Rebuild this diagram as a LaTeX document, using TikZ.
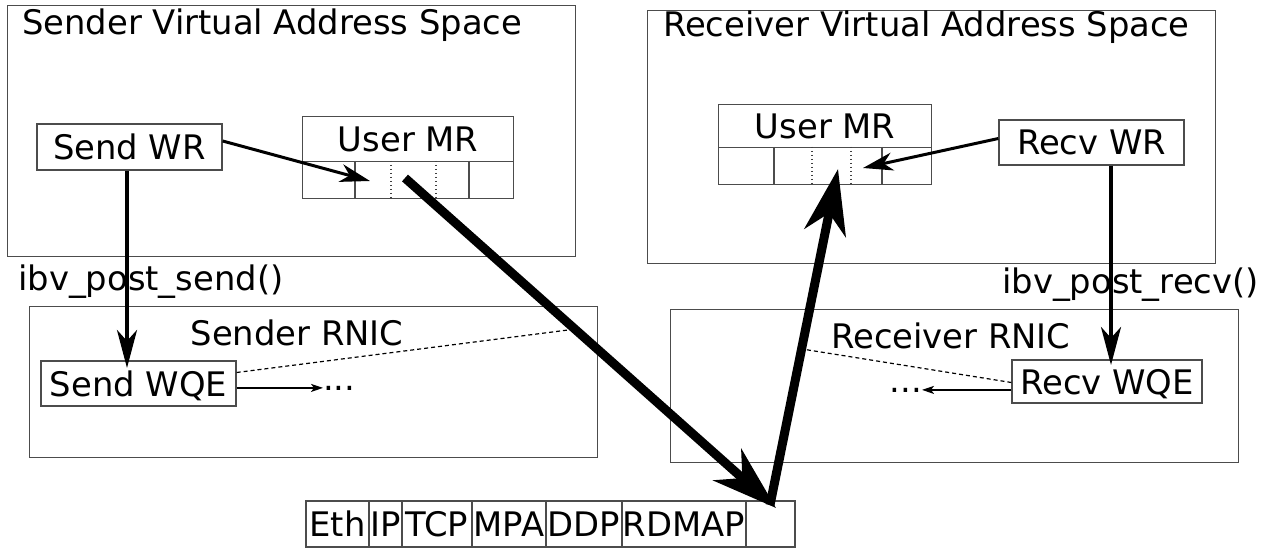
\documentclass[tikz,border=0pt]{standalone}
\usepackage{fontspec}
\setmainfont{DejaVu Sans}
\usetikzlibrary{arrows.meta,calc}

\begin{document}
\begin{tikzpicture}[x=1pt,y=-1pt,
  every node/.style={font=\fontsize{33.8}{40}\selectfont},
  frame/.style={draw=black!70, line width=1.3pt},
  box/.style={frame, inner sep=0pt, text height=25pt, text depth=0pt},
  plain/.style={inner sep=0pt},
  solidline/.style={draw=black!70, line width=1.3pt},
  dotline/.style={draw=black!75, line width=1.2pt, dash pattern=on 1.5pt off 2.5pt},
  dashline/.style={draw=black, line width=1.2pt, dash pattern=on 4pt off 3pt},
  arrthin/.style={line width=3pt, -{Stealth[length=30pt, width=18pt, inset=9pt]}},
  arrpost/.style={line width=4pt, -{Stealth[length=38pt, width=20pt, inset=11pt]}},
  arrthick/.style={line width=9pt, -{Stealth[length=65pt, width=42pt, inset=20pt]}},
  arrtiny/.style={line width=1.5pt, -{Stealth[length=12pt, width=8pt, inset=3pt]}},
  pkt/.style={frame, inner sep=0pt, outer sep=0pt, minimum height=46pt, text height=25pt, text depth=0pt, anchor=west}]

\useasboundingbox (0,0) rectangle (1266,548);

% ---------- sender side ----------
\node[frame, inner sep=0pt, minimum width=568pt, minimum height=251pt, anchor=north west] (svas) at (7,5) {};
\node[plain, anchor=base west] (svastitle) at (22,35) {Sender Virtual Address Space};

\node[box, minimum width=185pt, minimum height=46pt] (sendwr) at (129.5,147) {Send WR};

\node[box, minimum width=211pt, minimum height=45pt, anchor=north west] (smr) at (302,116) {User MR};
\node[frame, inner sep=0pt, minimum width=211pt, minimum height=37pt, anchor=north west] (scells) at (302,161) {};
\foreach \dx/\sty in {53/solidline, 89/dotline, 134/dotline, 167/solidline}
  \draw[\sty] ($(scells.north west)+(\dx,0)$) -- ($(scells.south west)+(\dx,0)$);

\node[plain, anchor=base west] (postsend) at (18,290) {ibv\_post\_send()};

\node[frame, inner sep=0pt, minimum width=568pt, minimum height=151pt, anchor=north west] (srnic) at (29,306) {};
\node[plain, anchor=base] (srnictitle) at (297,345) {Sender RNIC};
\node[box, minimum width=195pt, minimum height=45pt] (sendwqe) at (138.5,383.5) {Send WQE};
\node[plain, anchor=base west] (sdots) at (323,390) {...};

% ---------- receiver side ----------
\node[frame, inner sep=0pt, minimum width=568pt, minimum height=253pt, anchor=north west] (rvas) at (647,10) {};
\node[plain, anchor=base west] (rvastitle) at (663,37) {Receiver Virtual Address Space};

\node[box, minimum width=185pt, minimum height=45pt] (recvwr) at (1091.5,142.5) {Recv WR};

\node[box, minimum width=213pt, minimum height=43pt, anchor=north west] (rmr) at (718,104) {User MR};
\node[frame, inner sep=0pt, minimum width=213pt, minimum height=37pt, anchor=north west] (rcells) at (718,147) {};
\foreach \dx/\sty in {56/solidline, 94/dotline, 133/dotline, 164/solidline}
  \draw[\sty] ($(rcells.north west)+(\dx,0)$) -- ($(rcells.south west)+(\dx,0)$);

\node[plain, anchor=base west] (postrecv) at (1002,293) {ibv\_post\_recv()};

\node[frame, inner sep=0pt, minimum width=568pt, minimum height=153pt, anchor=north west] (rrnic) at (670,309) {};
\node[plain, anchor=base west] (rrnictitle) at (831,348) {Receiver RNIC};
\node[box, minimum width=190pt, minimum height=43pt] (recvwqe) at (1107,381.5) {Recv WQE};
\node[plain, anchor=base east] (rdots) at (922,392) {...};

% ---------- packet on the wire ----------
\node[pkt, minimum width=63pt] (p1) at (306,524) {Eth};
\node[pkt, minimum width=33pt] (p2) at (p1.east) {IP};
\node[pkt, minimum width=70pt] (p3) at (p2.east) {TCP};
\node[pkt, minimum width=74pt] (p4) at (p3.east) {MPA};
\node[pkt, minimum width=76pt] (p5) at (p4.east) {DDP};
\node[pkt, minimum width=124pt] (p6) at (p5.east) {RDMAP};
\node[pkt, minimum width=49pt] (p7) at (p6.east) {};

% ---------- end points inside boxes ----------
\coordinate (sslot) at (370,181);
\coordinate (sdata) at (405,178);
\coordinate (sq) at (127,368);
\coordinate (sdash) at (568,330);
\coordinate (rslot) at (863,168);
\coordinate (rdata) at (838,169);
\coordinate (rq) at (1111,365);
\coordinate (rdash) at (802,349);
\coordinate (ptip) at (776,508);
\coordinate (pstart) at (770,505);

% ---------- connectors ----------
\draw[arrthin] ($(sendwr.east)+(0,-6)$) -- (sslot);
\draw[arrthin] ($(recvwr.west)+(0,-4)$) -- (rslot);
\draw[arrpost] (sendwr.south -| sq) -- (sq);
\draw[arrpost] (recvwr.south -| rq) -- (rq);

\draw[dashline] ($(sendwqe.east)+(0,-11)$) -- (sdash);
\draw[arrtiny] (sendwqe.east |- sdots.west) -- (sdots.west);
\draw[dashline] ($(recvwqe.west)+(0,1)$) -- (rdash);
\draw[arrtiny] (recvwqe.west |- rdots.east) -- (rdots.east);

\draw[arrthick] (sdata) -- (ptip);
\draw[arrthick] (pstart) -- (rdata);

\end{tikzpicture}
\end{document}
